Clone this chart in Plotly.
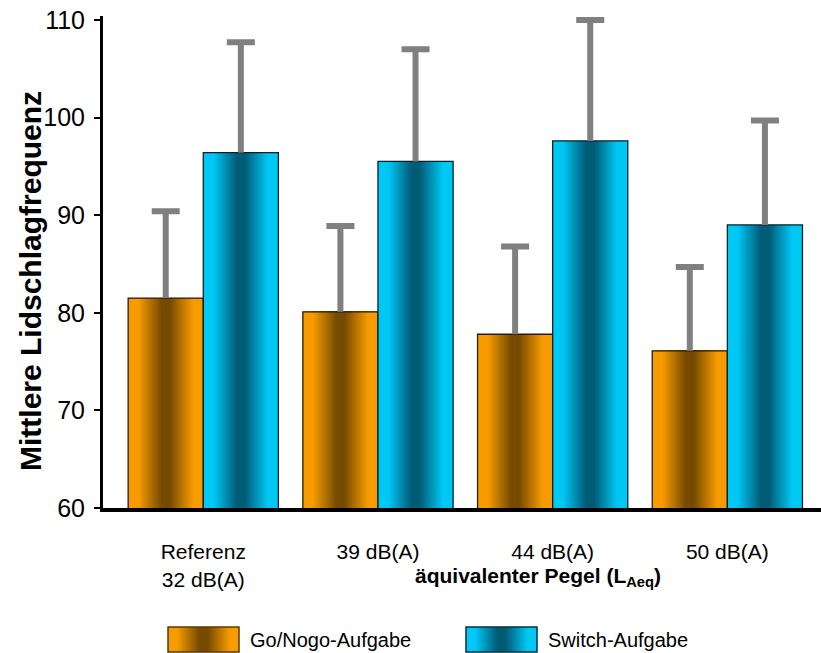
import plotly.graph_objects as go

# ---------------- data ----------------
categories = ["Referenz<br>32 dB(A)", "39 dB(A)", "44 dB(A)", "50 dB(A)"]
x_pos = [0, 1, 2, 3]
go_nogo_mean = [81.5, 80.1, 77.8, 76.1]
go_nogo_sd = [8.9, 8.8, 9.0, 8.6]
switch_mean = [96.4, 95.5, 97.6, 89.0]
switch_sd = [11.3, 11.5, 12.4, 10.7]
series_names = ["Go/Nogo-Aufgabe", "Switch-Aufgabe"]
y_ticks = [60, 70, 80, 90, 100, 110]

# ---------------- styling ----------------
ORANGE_EDGE = (247, 155, 0)
ORANGE_MID = (118, 75, 0)
CYAN_EDGE = (0, 200, 245)
CYAN_MID = (0, 92, 118)
BAR_W = 0.43
N_LAYERS = 40

W, H = 821, 653
L, R, T, B = 103, 0, 16, 145
PW, PH = W - L - R, H - T - B


def px(x):
    return (x - L) / PW


def py(y):
    return (H - B - y) / PH


def shade(d):
    s = (0.74 - d) / (0.74 - 0.12)
    return max(0.0, min(1.0, s))


def mix(edge, mid, s):
    c = [round(e + (m - e) * s) for e, m in zip(edge, mid)]
    return "rgb(%d,%d,%d)" % tuple(c)


fig = go.Figure()
series = [
    (go_nogo_mean, go_nogo_sd, ORANGE_EDGE, ORANGE_MID, -BAR_W / 2, "#2a1a00", series_names[0]),
    (switch_mean, switch_sd, CYAN_EDGE, CYAN_MID, BAR_W / 2, "#00202a", series_names[1]),
]
for mean, sd, edge, mid, coff, lcol, name in series:
    for k in range(N_LAYERS):
        f = 1 - k / N_LAYERS
        w = BAR_W * f
        fig.add_bar(
            x=x_pos, y=mean, width=w, offset=coff - w / 2,
            marker=dict(color=mix(edge, mid, shade(f)), line=dict(width=0)),
            showlegend=False, hoverinfo="skip",
        )
    # outline + error stem (no caps)
    fig.add_bar(
        x=x_pos, y=mean, width=BAR_W, offset=coff - BAR_W / 2, name=name,
        marker=dict(color="rgba(0,0,0,0)", line=dict(color=lcol, width=1.3)),
        error_y=dict(type="data", array=sd, arrayminus=[0] * len(sd), symmetric=False,
                     color="#808080", thickness=6, width=0),
        showlegend=False,
    )
    # cap only at the top end of each error bar
    fig.add_scatter(
        x=[xp + coff for xp in x_pos], y=[m + s for m, s in zip(mean, sd)],
        mode="markers", marker=dict(size=1, color="rgba(0,0,0,0)"),
        error_y=dict(type="data", array=[0] * len(sd), color="#808080", thickness=6, width=14),
        showlegend=False, hoverinfo="skip",
    )

shapes = []
annotations = []

# custom legend with gradient swatches
legend_items = [
    (168, 239, ORANGE_EDGE, ORANGE_MID, "#5a3800", 248, series_names[0]),
    (466, 537, CYAN_EDGE, CYAN_MID, "#00303c", 546, series_names[1]),
]
ly0, ly1 = 627, 652
for x0, x1, edge, mid, bcol, tx, label in legend_items:
    NS = int(x1 - x0)
    c = (x0 + x1) / 2
    for i in range(NS):
        a = x0 + i
        d = abs(a + 0.5 - c) / ((x1 - x0) / 2)
        shapes.append(dict(type="rect", xref="paper", yref="paper",
                           x0=px(a), x1=px(min(a + 1.6, x1)), y0=py(ly1), y1=py(ly0),
                           line=dict(width=0), fillcolor=mix(edge, mid, shade(d)), layer="above"))
    shapes.append(dict(type="rect", xref="paper", yref="paper",
                       x0=px(x0), x1=px(x1), y0=py(ly1), y1=py(ly0),
                       line=dict(color=bcol, width=1.5), fillcolor="rgba(0,0,0,0)", layer="above"))
    annotations.append(dict(text=label, xref="paper", yref="paper", x=px(tx), y=py(640),
                            xanchor="left", yanchor="middle", showarrow=False,
                            font=dict(size=20, color="black")))

annotations.append(dict(text="<b>Mittlere Lidschlagfrequenz</b>", textangle=-90,
                        xref="paper", yref="paper", x=px(30), y=py(281),
                        xanchor="center", yanchor="middle", showarrow=False,
                        font=dict(size=30, color="black")))
annotations.append(dict(text="<b>äquivalenter Pegel (L<sub>Aeq</sub>)</b>",
                        xref="paper", yref="paper", x=px(538), y=py(577),
                        xanchor="center", yanchor="middle", showarrow=False,
                        font=dict(size=21, color="black")))

fig.update_layout(
    width=W, height=H,
    margin=dict(l=L, r=R, t=T, b=B, pad=0),
    barmode="overlay",
    plot_bgcolor="white", paper_bgcolor="white",
    font=dict(family="Liberation Sans, Arial, sans-serif", color="black"),
    xaxis=dict(range=[-0.574, 3.536], tickvals=x_pos, ticktext=categories,
               ticks="outside", ticklen=22, tickcolor="rgba(0,0,0,0)",
               tickfont=dict(size=21), showline=True, linecolor="black", linewidth=4,
               showgrid=False, zeroline=False, fixedrange=True),
    yaxis=dict(range=[60, 110.4], tickvals=y_ticks, ticks="outside", ticklen=6,
               tickwidth=2, tickcolor="black", ticklabelstandoff=4,
               tickfont=dict(size=25, family="Liberation Sans, Arial, sans-serif"),
               showline=True, linecolor="black", linewidth=3,
               showgrid=False, zeroline=False, fixedrange=True),
    shapes=shapes, annotations=annotations, showlegend=False,
)

fig.write_html("out.html")
